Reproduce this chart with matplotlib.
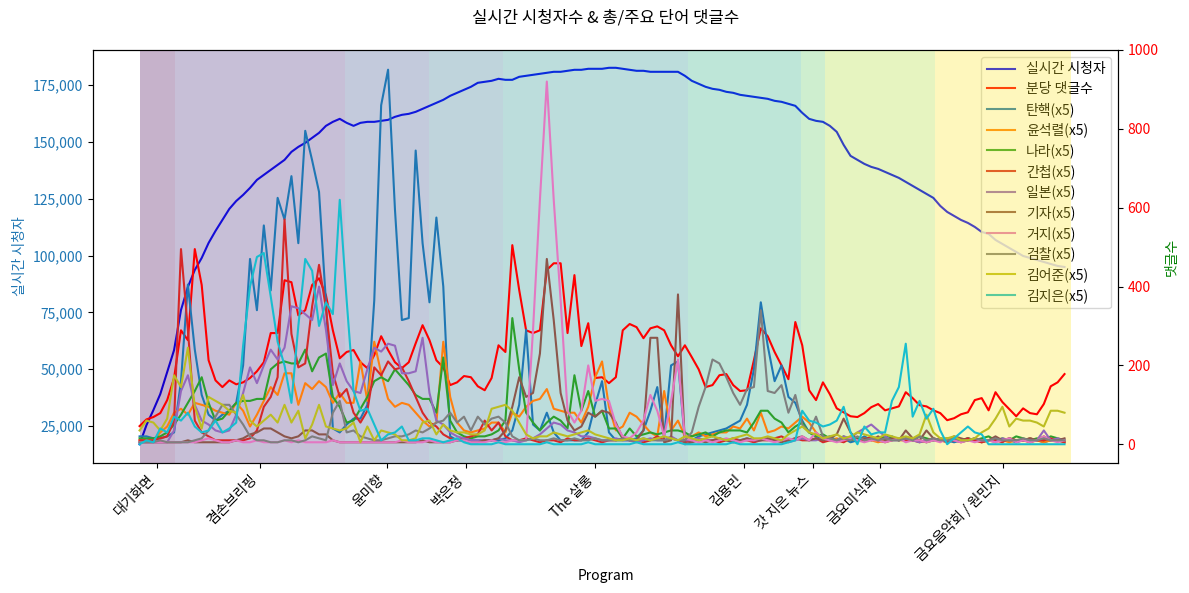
import numpy as np
import matplotlib
matplotlib.use("Agg")
import matplotlib.pyplot as plt
from matplotlib.ticker import StrMethodFormatter

plt.rcParams['font.family'] = ['Noto Sans CJK KR', 'DejaVu Sans']
plt.rcParams['axes.unicode_minus'] = False

# 프로그램 구간 (샘플 인덱스 기준)
programs = ['대기화면', '겸손브리핑', '윤미향', '박은정', 'The 살롱', '김용민',
            '갓 지은 뉴스', '금요미식회', '금요음악회 / 원민지']
prog_start = [0, 5.07, 29.7, 42.0, 52.7, 79.4, 95.8, 99.3, 115.3]
prog_end = [5.07, 29.7, 42.0, 52.7, 79.4, 95.8, 99.3, 115.3, 135]

viewers = [17000, 25440, 32040, 39080, 48760, 58440, 76040, 86160, 93640, 98920,
           105520, 110800, 115640, 120480, 123960, 126640, 129720, 133240, 135440, 137640,
           139840, 142040, 145560, 147760, 149520, 151720, 153920, 157000, 158760, 160080,
           158320, 157000, 158320, 158760, 158760, 159200, 159640, 160960, 161840, 162280,
           163160, 164480, 165800, 167120, 168440, 170200, 171520, 172840, 174160, 175920,
           176360, 176800, 177680, 177240, 177240, 178560, 179000, 179440, 179880, 180320,
           180760, 180760, 181200, 181640, 181640, 182080, 182080, 182080, 182520, 182520,
           182080, 181640, 181200, 181200, 180760, 180760, 180760, 180760, 180760, 179000,
           176800, 175480, 174160, 173280, 172840, 171960, 171520, 170640, 170200, 169760,
           169320, 168880, 168000, 167560, 166680, 165800, 162720, 160080, 159200, 158760,
           157000, 154360, 148640, 143800, 142040, 140280, 138960, 138080, 136760, 135440,
           134120, 132360, 130600, 128840, 127080, 125320, 121800, 119160, 117400, 115640,
           114320, 112560, 110360, 109520, 106840, 105080, 103320, 101560, 99800, 98920,
           98040, 97160, 96280, 95400, 94960]

comments = [46, 63, 69, 79, 112, 168, 289, 264, 495, 404,
            213, 162, 145, 162, 152, 157, 168, 185, 208, 282,
            282, 416, 411, 327, 340, 404, 421, 378, 289, 218,
            234, 239, 208, 193, 226, 274, 239, 208, 193, 208,
            256, 302, 264, 213, 195, 150, 157, 173, 170, 147,
            137, 168, 251, 234, 505, 391, 289, 282, 289, 442,
            459, 459, 282, 429, 249, 307, 168, 170, 155, 170,
            289, 305, 297, 269, 294, 299, 289, 251, 223, 251,
            221, 190, 145, 150, 175, 178, 150, 135, 137, 213,
            294, 274, 234, 200, 165, 310, 251, 137, 112, 157,
            127, 91, 81, 71, 69, 79, 94, 102, 86, 91,
            96, 132, 117, 99, 96, 86, 79, 61, 66, 76,
            81, 112, 117, 86, 132, 107, 89, 71, 91, 79,
            76, 102, 147, 157, 178]

words = ['탄핵', '윤석렬', '나라', '간첩', '일본', '기자', '거지', '검찰', '김어준', '김지은']

w_tanhaek = [4, 4, 3, 3, 4, 6, 32, 81, 48, 25,
             15, 12, 15, 17, 21, 40, 94, 68, 111, 78,
             125, 114, 136, 102, 159, 144, 128, 72, 8, 6,
             10, 13, 13, 20, 73, 172, 190, 119, 63, 64,
             149, 102, 72, 115, 80, 4, 2, 2, 2, 2,
             2, 2, 2, 3, 7, 20, 58, 10, 7, 16,
             6, 2, 2, 2, 2, 6, 20, 32, 6, 2,
             2, 2, 3, 7, 17, 29, 4, 40, 42, 2,
             2, 4, 5, 6, 7, 8, 10, 12, 20, 38,
             72, 50, 32, 40, 24, 21, 12, 6, 4, 3,
             4, 2, 3, 1, 2, 4, 2, 3, 2, 4,
             2, 3, 2, 2, 1, 2, 3, 2, 1, 2,
             3, 2, 1, 2, 3, 2, 2, 1, 2, 3,
             2, 1, 2, 2, 1]

w_yoon = [2, 2, 2, 6, 9, 16, 18, 15, 21, 20,
          19, 17, 16, 15, 21, 17, 9, 15, 22, 29,
          25, 36, 36, 20, 31, 28, 32, 29, 21, 26,
          21, 21, 42, 22, 52, 36, 23, 19, 21, 20,
          16, 12, 9, 11, 52, 24, 11, 7, 6, 7,
          8, 11, 11, 6, 16, 14, 19, 22, 23, 28,
          18, 17, 16, 16, 11, 19, 34, 42, 19, 7,
          9, 16, 14, 10, 6, 4, 27, 7, 12, 4,
          4, 6, 4, 5, 6, 6, 9, 8, 13, 7,
          16, 6, 7, 9, 8, 11, 14, 11, 6, 3,
          2, 3, 2, 4, 2, 3, 2, 1, 2, 3,
          2, 2, 3, 2, 1, 2, 2, 3, 2, 1,
          2, 2, 1, 2, 3, 2, 1, 2, 2, 3,
          2, 1, 2, 2, 1]

w_nara = [3, 3, 3, 4, 6, 10, 15, 21, 27, 34,
          21, 12, 13, 17, 21, 22, 22, 23, 23, 38,
          41, 42, 41, 41, 48, 37, 44, 46, 24, 19,
          11, 12, 18, 24, 32, 34, 32, 38, 34, 30,
          25, 23, 23, 16, 44, 12, 6, 4, 3, 4,
          4, 5, 7, 12, 64, 38, 16, 11, 7, 11,
          14, 12, 8, 35, 17, 27, 14, 17, 8, 8,
          3, 8, 4, 5, 6, 5, 6, 7, 7, 6,
          4, 5, 6, 4, 6, 7, 7, 7, 6, 11,
          17, 17, 13, 11, 6, 9, 11, 6, 4, 5,
          3, 2, 4, 2, 3, 2, 3, 2, 4, 3,
          2, 3, 2, 4, 3, 2, 2, 3, 2, 2,
          3, 2, 3, 4, 2, 3, 2, 4, 3, 2,
          3, 2, 4, 3, 2]

w_ganchup = [2, 2, 2, 3, 4, 12, 99, 58, 12, 6,
             4, 2, 2, 2, 2, 2, 3, 7, 19, 24,
             34, 114, 56, 39, 41, 70, 91, 69, 36, 24,
             28, 16, 11, 17, 39, 35, 42, 38, 39, 32,
             24, 16, 11, 9, 5, 3, 2, 3, 4, 5,
             12, 7, 11, 4, 2, 2, 3, 2, 1, 2,
             2, 1, 3, 2, 2, 3, 2, 1, 2, 2,
             3, 2, 2, 1, 2, 4, 2, 3, 2, 1,
             2, 3, 2, 2, 1, 2, 3, 2, 2, 1,
             2, 2, 3, 4, 2, 3, 2, 2, 3, 1,
             2, 2, 1, 3, 2, 2, 4, 2, 1, 2,
             3, 2, 2, 1, 2, 3, 2, 1, 2, 2,
             3, 2, 1, 2, 2, 1, 3, 2, 2, 1,
             2, 2, 3, 2, 1]

w_ilbon = [1, 1, 1, 1, 1, 7, 27, 35, 20, 12,
           10, 7, 6, 7, 15, 26, 39, 31, 40, 48,
           43, 49, 70, 69, 66, 63, 80, 58, 30, 41,
           32, 27, 26, 38, 49, 47, 51, 50, 36, 36,
           37, 54, 26, 12, 10, 6, 4, 3, 2, 2,
           2, 2, 3, 2, 2, 1, 2, 3, 5, 8,
           11, 10, 7, 6, 4, 4, 3, 2, 2, 3,
           2, 2, 1, 2, 3, 2, 2, 4, 2, 2,
           2, 3, 2, 2, 3, 2, 1, 2, 3, 2,
           2, 3, 2, 2, 1, 2, 3, 2, 2, 3,
           2, 2, 4, 3, 6, 8, 10, 7, 4, 2,
           2, 3, 2, 1, 2, 2, 3, 2, 2, 1,
           2, 3, 2, 2, 1, 3, 2, 2, 2, 2,
           2, 7, 2, 3, 2]

w_gija = [1, 1, 1, 1, 1, 1, 1, 2, 1, 1,
          1, 1, 1, 1, 2, 3, 5, 6, 8, 8,
          6, 4, 3, 4, 7, 7, 5, 5, 2, 1,
          1, 1, 1, 1, 1, 1, 1, 1, 1, 1,
          1, 2, 1, 1, 1, 1, 2, 2, 1, 1,
          2, 2, 3, 7, 19, 34, 24, 26, 46, 94,
          63, 26, 12, 7, 9, 16, 14, 17, 16, 11,
          3, 2, 2, 7, 54, 54, 1, 2, 76, 0,
          1, 2, 1, 2, 3, 2, 1, 2, 3, 2,
          2, 3, 2, 1, 2, 3, 4, 2, 3, 2,
          3, 5, 13, 6, 2, 3, 2, 4, 2, 3,
          2, 7, 3, 2, 7, 3, 2, 2, 4, 3,
          2, 3, 2, 2, 4, 2, 3, 2, 2, 3,
          2, 4, 2, 2, 3]

w_geoji = [1, 1, 1, 1, 1, 1, 1, 1, 1, 2,
           3, 2, 1, 1, 2, 1, 1, 2, 1, 1,
           1, 2, 1, 2, 1, 1, 1, 1, 2, 1,
           1, 1, 1, 1, 1, 1, 1, 1, 2, 1,
           1, 1, 2, 1, 1, 1, 2, 2, 1, 1,
           1, 2, 1, 1, 2, 2, 2, 58, 124, 184,
           124, 73, 17, 11, 17, 40, 22, 23, 22, 10,
           4, 3, 6, 12, 25, 17, 4, 22, 43, 3,
           2, 1, 2, 1, 2, 3, 2, 1, 2, 2,
           3, 2, 1, 2, 3, 2, 4, 2, 6, 3,
           2, 1, 2, 3, 2, 1, 2, 2, 1, 2,
           3, 1, 2, 2, 1, 2, 1, 3, 2, 1,
           2, 1, 2, 2, 1, 2, 3, 1, 2, 1,
           2, 4, 2, 1, 2]

w_geomchal = [1, 1, 1, 2, 1, 1, 1, 1, 2, 3,
              7, 14, 20, 20, 15, 10, 4, 2, 2, 1,
              1, 2, 2, 1, 2, 4, 3, 2, 16, 22,
              6, 7, 4, 3, 2, 2, 3, 4, 4, 5,
              7, 6, 8, 11, 12, 16, 11, 14, 7, 14,
              10, 13, 14, 11, 4, 2, 2, 3, 2, 2,
              3, 2, 2, 3, 2, 2, 3, 2, 2, 2,
              3, 2, 2, 3, 2, 2, 2, 3, 2, 2,
              6, 19, 29, 43, 41, 34, 26, 20, 28, 29,
              68, 27, 26, 30, 16, 25, 10, 6, 14, 4,
              3, 2, 3, 2, 4, 2, 3, 2, 3, 2,
              2, 3, 2, 4, 2, 3, 2, 2, 3, 2,
              2, 3, 2, 2, 3, 2, 2, 2, 3, 2,
              2, 3, 2, 2, 2]

w_kimeojun = [7, 12, 11, 7, 13, 35, 29, 49, 19, 8,
              24, 22, 20, 17, 16, 25, 12, 9, 12, 15,
              11, 20, 11, 17, 3, 10, 20, 9, 8, 7,
              8, 11, 1, 9, 2, 7, 6, 5, 2, 2,
              3, 11, 12, 5, 10, 7, 6, 6, 5, 5,
              7, 18, 19, 20, 17, 11, 5, 3, 4, 4,
              6, 5, 4, 5, 6, 7, 5, 4, 3, 2,
              2, 3, 2, 3, 2, 3, 4, 3, 2, 4,
              3, 2, 3, 4, 3, 2, 3, 4, 5, 3,
              3, 4, 3, 2, 5, 7, 9, 6, 5, 3,
              4, 5, 3, 4, 6, 5, 4, 3, 5, 4,
              3, 4, 3, 5, 15, 6, 3, 3, 4, 2,
              2, 3, 6, 8, 13, 19, 9, 13, 12, 12,
              11, 9, 17, 17, 16]

w_kimjieun = [0, 2, 1, 8, 6, 14, 12, 16, 9, 6,
              7, 12, 6, 8, 11, 50, 80, 95, 97, 75,
              52, 40, 21, 60, 94, 88, 60, 72, 66, 124,
              73, 27, 17, 18, 10, 2, 5, 6, 9, 2,
              2, 3, 3, 2, 1, 2, 3, 1, 0, 0,
              0, 0, 1, 0, 0, 0, 0, 0, 0, 1,
              0, 0, 0, 0, 0, 1, 0, 0, 0, 0,
              0, 0, 1, 0, 0, 0, 0, 0, 1, 0,
              0, 0, 0, 0, 0, 0, 1, 0, 0, 0,
              0, 0, 0, 0, 1, 2, 17, 12, 11, 9,
              10, 12, 19, 6, 0, 9, 5, 6, 6, 22,
              29, 51, 14, 22, 13, 18, 7, 0, 3, 6,
              9, 6, 5, 0, 0, 0, 0, 0, 0, 0,
              0, 0, 0, 0, 0]

word_series = [w_tanhaek, w_yoon, w_nara, w_ganchup, w_ilbon,
               w_gija, w_geoji, w_geomchal, w_kimeojun, w_kimjieun]

x = np.arange(len(viewers))

fig, ax1 = plt.subplots(figsize=(11.89, 5.93), dpi=100)
fig.subplots_adjust(left=0.0782, right=0.9403, top=0.9157, bottom=0.2192)

ax1.plot(x, viewers, color='blue', label='실시간 시청자')
ax1.set_ylabel('실시간 시청자', color='tab:blue')
ax1.tick_params(axis='y', labelcolor='tab:blue')
ax1.yaxis.set_major_formatter(StrMethodFormatter('{x:,.0f}'))
ax1.set_ylim(8772, 190350)

ax2 = ax1.twinx()
cmap = plt.get_cmap('viridis')
for k, (s, e) in enumerate(zip(prog_start, prog_end)):
    ax2.axvspan(s, e, color=cmap(k / (len(programs) - 1)), alpha=0.3, lw=0)

ax2.plot(x, comments, color='red', label='분당 댓글수')
for k, (w, cnt) in enumerate(zip(words, word_series)):
    ax2.plot(x, np.array(cnt) * 5, color=f'C{k}', label=f'{w}(x5)')
ax2.set_ylabel('댓글수', color='green')
ax2.tick_params(axis='y', labelcolor='red')
ax2.set_ylim(-47.6, 1000)

centers = [(s + e) / 2 for s, e in zip(prog_start, prog_end)]
ax1.set_xticks(centers)
ax1.set_xticklabels(programs, rotation=45, ha='right')
ax1.set_xlabel('Program')

h1, l1 = ax1.get_legend_handles_labels()
h2, l2 = ax2.get_legend_handles_labels()
ax1.legend(h1 + h2, l1 + l2, loc='upper right', labelspacing=0.42)

ax1.set_title('실시간 시청자수 & 총/주요 단어 댓글수', pad=20)

fig.savefig('out.png', dpi=100)
